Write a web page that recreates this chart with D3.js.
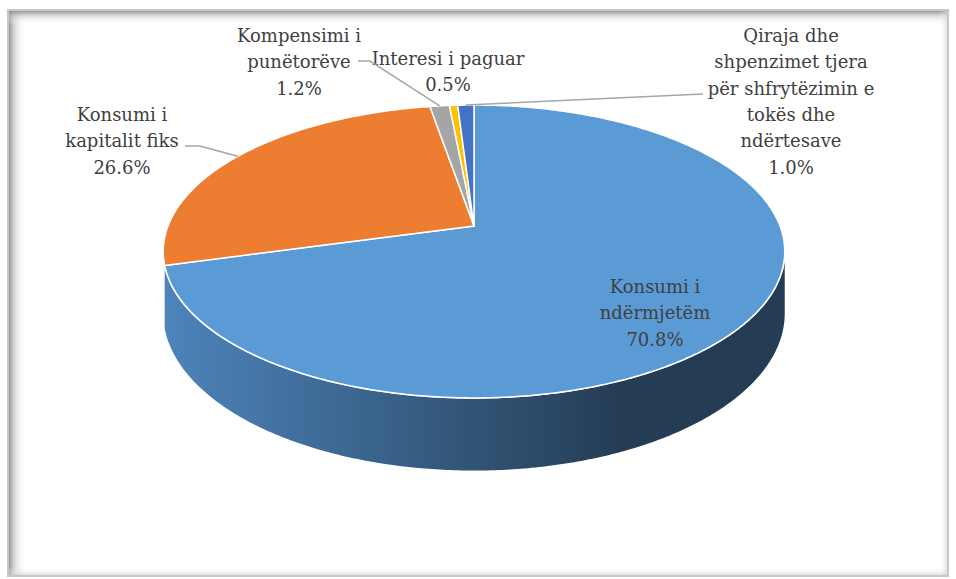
<!DOCTYPE html>
<html>
<head>
<meta charset="utf-8">
<script src="https://d3js.org/d3.v7.min.js"></script>
<style>
  body { margin: 0; background: #fff; }
  svg { display: block; }
</style>
</head>
<body>
<svg id="chart" width="956" height="579"></svg>
<script>
// Data
const categories = [
  "Konsumi i ndërmjetëm",
  "Konsumi i kapitalit fiks",
  "Kompensimi i punëtorëve",
  "Interesi i paguar",
  "Qiraja dhe shpenzimet tjera për shfrytëzimin e tokës dhe ndërtesave"
];
const values = [70.8, 26.6, 1.2, 0.5, 1.0];
const labelLines = [
  ["Konsumi i", "ndërmjetëm", "70.8%"],
  ["Konsumi i", "kapitalit fiks", "26.6%"],
  ["Kompensimi i", "punëtorëve", "1.2%"],
  ["Interesi i paguar", "0.5%"],
  ["Qiraja dhe", "shpenzimet tjera", "për shfrytëzimin e", "tokës dhe", "ndërtesave", "1.0%"]
];
const colors = ["#5B9BD5", "#ED7D31", "#A5A5A5", "#FFC000", "#4472C4"];

const svg = d3.select("#chart");

// Frame with inner shadow
const defs = svg.append("defs");
function lg(id, x1, y1, x2, y2, stops) {
  const g = defs.append("linearGradient").attr("id", id)
    .attr("x1", x1).attr("y1", y1).attr("x2", x2).attr("y2", y2);
  stops.forEach(s => g.append("stop").attr("offset", s[0]).attr("stop-color", s[1]).attr("stop-opacity", s[2]));
  return g;
}
lg("shL", 0, 0, 1, 0, [[0, "#8c8c8c", 0.9], [0.35, "#bdbdbd", 0.5], [1, "#ffffff", 0]]);
lg("shT", 0, 0, 0, 1, [[0, "#8c8c8c", 0.9], [0.4, "#c4c4c4", 0.5], [1, "#ffffff", 0]]);
lg("shR", 1, 0, 0, 0, [[0, "#d0d0d0", 0.6], [1, "#ffffff", 0]]);
lg("shB", 0, 1, 0, 0, [[0, "#cfcfcf", 0.6], [1, "#ffffff", 0]]);

const fx0 = 8, fy0 = 10, fx1 = 948, fy1 = 576;
svg.append("rect").attr("x", fx0).attr("y", fy0).attr("width", fx1 - fx0).attr("height", fy1 - fy0)
  .attr("fill", "#fff").attr("stroke", "#c8c8c8").attr("stroke-width", 2);
svg.append("rect").attr("x", fx0 + 1).attr("y", fy0 + 1).attr("width", 18).attr("height", fy1 - fy0 - 2).attr("fill", "url(#shL)");
svg.append("rect").attr("x", fx0 + 1).attr("y", fy0 + 1).attr("width", fx1 - fx0 - 2).attr("height", 14).attr("fill", "url(#shT)");
svg.append("rect").attr("x", fx1 - 9).attr("y", fy0 + 1).attr("width", 8).attr("height", fy1 - fy0 - 2).attr("fill", "url(#shR)");
svg.append("rect").attr("x", fx0 + 1).attr("y", fy1 - 9).attr("width", fx1 - fx0 - 2).attr("height", 8).attr("fill", "url(#shB)");

// 3D pie projection (perspective tilt)
const cx = 474, cy = 226, R = 306, A = 142, persp = 0.174, depth = 60;
function proj(theta, drop) {
  const sx = Math.sin(theta), sz = Math.cos(theta);
  const s = 1 / (1 + persp * sz);
  return [cx + R * sx * s, cy - A * sz * s + depth * drop * s];
}

const arcs = d3.pie().sort(null).value(d => d)(values);

function arcPoints(a0, a1, drop) {
  const n = Math.max(2, Math.ceil((a1 - a0) / 0.01));
  const pts = [];
  for (let i = 0; i <= n; i++) pts.push(proj(a0 + (a1 - a0) * i / n, drop));
  return pts;
}

// side gradient (front wall of the big slice)
defs.append("linearGradient").attr("id", "side0")
  .attr("gradientUnits", "userSpaceOnUse")
  .attr("x1", 165).attr("y1", 0).attr("x2", 625).attr("y2", 0)
  .selectAll("stop").data(["#4d84ba", "#243c54"]).join("stop")
  .attr("offset", (d, j) => j).attr("stop-color", d => d);

const line = d3.line();
const silR = Math.acos(-persp);
const sideEnd = arcs[0].endAngle;

// visible side wall
{
  const top = arcPoints(silR, sideEnd, 0);
  const bot = arcPoints(silR, sideEnd, 1).reverse();
  svg.append("path").attr("d", line(top.concat(bot)) + "Z")
    .attr("fill", "url(#side0)");
}
// white rim where top meets side
svg.append("path").attr("d", line(arcPoints(silR - 0.05, sideEnd, 0)))
  .attr("fill", "none").attr("stroke", "#fff").attr("stroke-width", 1.6);

// top faces
arcs.forEach((a, i) => {
  const pts = [[cx, cy]].concat(arcPoints(a.startAngle, a.endAngle, 0));
  svg.append("path").attr("d", line(pts) + "Z")
    .attr("fill", colors[i]).attr("stroke", "#fff").attr("stroke-width", 1.5)
    .attr("stroke-linejoin", "round");
});

// labels
const fontSize = 18, lh = 26.3;
const labelPos = [
  [655, 293],
  [122, 121],
  [299, 42],
  [448, 65],
  [791, 42]
];
labelLines.forEach((lines, i) => {
  const t = svg.append("text")
    .attr("x", labelPos[i][0]).attr("y", labelPos[i][1])
    .attr("text-anchor", "middle")
    .attr("font-family", "'DejaVu Serif', serif")
    .attr("font-size", fontSize)
    .attr("fill", "#404040");
  lines.forEach((l, j) => t.append("tspan").attr("x", labelPos[i][0]).attr("dy", j === 0 ? 0 : lh).text(l));
});

// leader lines: from label side to slice rim midpoint
const leaders = [
  { i: 1, from: [[185, 146], [200, 146]] },
  { i: 2, from: [[358, 61], [370, 61]] },
  { i: 4, from: [[703, 94]] }
];
leaders.forEach(d => {
  const a = arcs[d.i];
  const end = proj((a.startAngle + a.endAngle) / 2, 0);
  svg.append("path").attr("d", line(d.from.concat([end])))
    .attr("fill", "none").attr("stroke", "#a6a6a6").attr("stroke-width", 1.5);
});
</script>
</body>
</html>
